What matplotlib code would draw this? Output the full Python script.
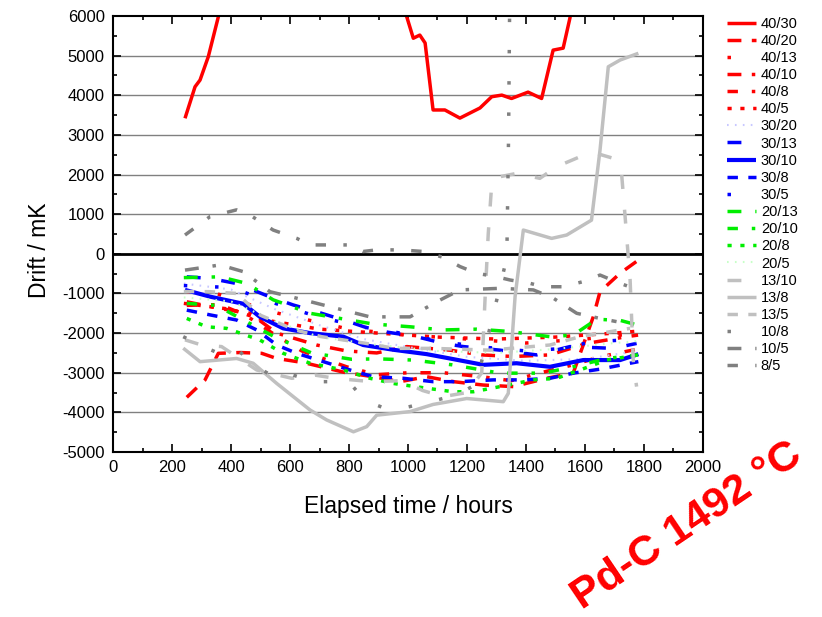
import matplotlib.pyplot as plt
from matplotlib.ticker import MultipleLocator

plt.rcParams['font.family'] = ['Liberation Sans', 'DejaVu Sans']
plt.rcParams['axes.unicode_minus'] = False

# --- data (hours, mK) ---
t40_30 = [244, 278, 295, 323, 357, 380, 980, 995, 1018, 1040, 1058, 1085, 1125, 1176, 1244, 1284, 1318, 1351, 1407, 1453, 1492, 1526, 1549, 1560]
d40_30 = [3420, 4215, 4385, 4975, 5980, 6600, 6600, 6000, 5440, 5520, 5320, 3630, 3630, 3425, 3680, 3965, 4005, 3920, 4080, 3920, 5140, 5190, 5950, 6600]

t40_20 = [250, 312, 357, 430, 504, 555, 650, 790, 882, 973, 1063, 1154, 1255, 1357, 1470, 1560, 1628, 1651, 1719, 1775]
d40_20 = [-3620, -3180, -2510, -2490, -2510, -2640, -2750, -3000, -3100, -3225, -3100, -3225, -3310, -3350, -3140, -3010, -1590, -955, -490, -190]

t40_13 = [250, 350, 470, 560, 650, 800, 1000, 1200, 1400, 1600, 1780]
d40_13 = [-950, -1000, -1300, -1500, -1650, -1900, -2050, -2150, -2250, -2150, -2000]

t40_10 = [250, 363, 464, 555, 690, 792, 894, 996, 1142, 1250, 1357, 1481, 1606, 1741, 1780]
d40_10 = [-1210, -1380, -1500, -2000, -2300, -2450, -2500, -2340, -2430, -2550, -2590, -2550, -2260, -2090, -2050]

t40_8 = [250, 363, 450, 540, 640, 792, 894, 1000, 1120, 1250, 1350, 1450, 1560, 1650, 1780]
d40_8 = [-1300, -1280, -1550, -2000, -2450, -2850, -3050, -3000, -3000, -3100, -3200, -3000, -2800, -2600, -2400]

t40_5 = [240, 400, 500, 700, 900, 1100, 1300, 1500, 1700, 1780]
d40_5 = [-1250, -1400, -1650, -1900, -2000, -2100, -2150, -2100, -2000, -1950]

t30_20 = [240, 400, 550, 700, 850, 1000, 1200, 1400, 1600, 1780]
d30_20 = [-750, -900, -1400, -1800, -2150, -2350, -2600, -2700, -2650, -2450]

t30_13 = [250, 329, 420, 520, 611, 690, 815, 882, 1029, 1120, 1188, 1312, 1436, 1549, 1696, 1775]
d30_13 = [-580, -620, -750, -1050, -1290, -1460, -1750, -1920, -2090, -2260, -2340, -2430, -2550, -2340, -2385, -2260]

t30_10 = [244, 329, 442, 498, 577, 668, 781, 848, 950, 1063, 1142, 1255, 1368, 1481, 1594, 1719, 1781]
d30_10 = [-910, -1080, -1260, -1590, -1880, -2000, -2090, -2300, -2420, -2530, -2640, -2800, -2760, -2850, -2680, -2680, -2530]

t30_8 = [250, 329, 419, 487, 555, 623, 713, 803, 882, 984, 1085, 1176, 1289, 1391, 1481, 1560, 1651, 1753, 1781]
d30_8 = [-1420, -1540, -1670, -1920, -2300, -2510, -2720, -2930, -3100, -3140, -3225, -3225, -3180, -3180, -3140, -3010, -2910, -2760, -2720]

t30_5 = [240, 400, 550, 700, 850, 984, 1108, 1250, 1400, 1500, 1628, 1780]
d30_5 = [-800, -850, -1250, -1600, -1850, -2010, -2210, -2350, -2450, -2400, -2220, -2150]

t20_13 = [240, 363, 453, 543, 668, 770, 882, 1007, 1120, 1233, 1346, 1481, 1560, 1640, 1720, 1780]
d20_13 = [-600, -580, -745, -1160, -1500, -1630, -1770, -1840, -1920, -1900, -1960, -2090, -2050, -1650, -1680, -1800]

t20_10 = [250, 350, 450, 549, 673, 809, 900, 1018, 1150, 1312, 1459, 1560, 1673, 1780]
d20_10 = [-1250, -1300, -1700, -2100, -2500, -2660, -2650, -2680, -2800, -3010, -3010, -2850, -2640, -2550]

t20_8 = [250, 317, 385, 498, 577, 668, 781, 871, 950, 1063, 1154, 1221, 1312, 1425, 1504, 1583, 1673, 1780]
d20_8 = [-1630, -1840, -1880, -2175, -2510, -2760, -2930, -3140, -3270, -3390, -3480, -3480, -3350, -3180, -3140, -2930, -2680, -2550]

t20_5 = [240, 400, 550, 700, 900, 1100, 1300, 1500, 1700, 1780]
d20_5 = [-1100, -1200, -1700, -2100, -2300, -2450, -2500, -2400, -2250, -2200]

t13_10 = [244, 300, 368, 487, 606, 685, 752, 877, 979, 1050, 1120, 1200, 1250, 1262, 1272, 1284, 1311, 1368, 1447, 1504, 1583, 1639, 1696, 1724, 1736, 1753, 1764, 1775]
d13_10 = [-2170, -2300, -2340, -2930, -3140, -3060, -3140, -3225, -3200, -3450, -3600, -3500, -3000, -1000, 500, 1780, 1945, 2030, 1905, 2200, 2450, 2535, 2410, 2030, 940, -660, -2760, -3350]

t13_8 = [238, 295, 419, 475, 555, 668, 724, 815, 860, 894, 1007, 1085, 1199, 1323, 1340, 1363, 1391, 1487, 1538, 1622, 1651, 1679, 1719, 1781]
d13_8 = [-2380, -2720, -2640, -2760, -3270, -3940, -4190, -4490, -4360, -4070, -3980, -3800, -3650, -3730, -3520, -1080, 600, 390, 475, 850, 2620, 4720, 4890, 5060]

t13_5 = [240, 329, 419, 500, 617, 707, 850, 956, 1085, 1278, 1481, 1583, 1753]
d13_5 = [-950, -955, -1000, -1550, -1920, -2090, -2250, -2385, -2385, -2430, -2300, -2090, -1880]

t10_8 = [238, 295, 346, 385, 430, 470, 515, 543, 589, 628, 685, 735, 809, 848, 865, 922, 979, 1029, 1097, 1165, 1230, 1290, 1335, 1341, 1345]
d10_8 = [-2090, -2300, -2470, -2340, -2470, -2760, -2970, -3100, -3010, -3100, -3225, -3225, -3310, -3650, -3730, -3900, -3900, -3815, -3690, -3560, -3300, -1500, -100, 3000, 6600]

t10_5 = [244, 363, 442, 532, 623, 781, 871, 1007, 1097, 1176, 1312, 1425, 1493, 1572, 1651, 1707]
d10_5 = [-410, -280, -450, -955, -1120, -1420, -1590, -1590, -1210, -910, -870, -910, -1120, -1500, -1630, -1710]

t8_5 = [244, 329, 419, 464, 543, 623, 668, 803, 848, 894, 973, 1051, 1120, 1176, 1233, 1301, 1346, 1414, 1459, 1527, 1594, 1651, 1719, 1781]
d8_5 = [475, 940, 1110, 980, 600, 390, 225, 225, 60, 100, 100, 60, -90, -320, -490, -580, -660, -745, -830, -830, -700, -535, -745, -910]

RED, BLUE, GREEN = '#ff0000', '#0000ff', '#00ee00'
LGRAY, DGRAY = '#c0c0c0', '#808080'

# (label, x, y, color, dashes, width)
series = [
    ('40/30', t40_30, d40_30, RED, None, 2.5),
    ('40/20', t40_20, d40_20, RED, (4, 3), 2.5),
    ('40/13', t40_13, d40_13, RED, (1, 8), 2.5),
    ('40/10', t40_10, d40_10, RED, (4, 3, 1, 3), 2.5),
    ('40/8', t40_8, d40_8, RED, (3, 4, 1, 4), 2.5),
    ('40/5', t40_5, d40_5, RED, (1.2, 2.5), 2.5),
    ('30/20', t30_20, d30_20, '#c8c8ff', (0.8, 3), 1.5),
    ('30/13', t30_13, d30_13, BLUE, (4, 6), 2.5),
    ('30/10', t30_10, d30_10, BLUE, None, 3),
    ('30/8', t30_8, d30_8, BLUE, (3, 3), 2.5),
    ('30/5', t30_5, d30_5, BLUE, (1, 8), 2.5),
    ('20/13', t20_13, d20_13, GREEN, (4, 4, 1, 4), 2.5),
    ('20/10', t20_10, d20_10, GREEN, (3, 4, 1, 4), 2.5),
    ('20/8', t20_8, d20_8, GREEN, (1.2, 2.5), 2.5),
    ('20/5', t20_5, d20_5, '#c8ffc8', (0.8, 3), 1.5),
    ('13/10', t13_10, d13_10, LGRAY, (4, 6), 2.5),
    ('13/8', t13_8, d13_8, LGRAY, None, 2.5),
    ('13/5', t13_5, d13_5, LGRAY, (3, 3), 2.5),
    ('10/8', t10_8, d10_8, DGRAY, (1, 8), 2.5),
    ('10/5', t10_5, d10_5, DGRAY, (4, 4, 1, 4), 2.5),
    ('8/5', t8_5, d8_5, DGRAY, (3, 5, 1, 5), 2.5),
]

fig = plt.figure(figsize=(8.22, 6.17), dpi=100)
ax = fig.add_axes([0.1375, 0.2674, 0.7177, 0.7066])

for y in range(-4000, 6000, 1000):
    if y != 0:
        ax.axhline(y, color='#808080', lw=1, zorder=0)
ax.axhline(0, color='black', lw=2, zorder=0)

for label, x, y, c, dash, w in series:
    line, = ax.plot(x, y, color=c, lw=w, label=label, solid_capstyle='butt')
    if dash is not None:
        line.set_dashes(dash)
        line.set_dash_capstyle('butt')

ax.set_xlim(0, 2000)
ax.set_ylim(-5000, 6000)
ax.xaxis.set_major_locator(MultipleLocator(200))
ax.xaxis.set_minor_locator(MultipleLocator(100))
ax.yaxis.set_major_locator(MultipleLocator(1000))
ax.yaxis.set_minor_locator(MultipleLocator(500))
ax.tick_params(which='both', direction='in', top=True, right=True, width=1.2, labelsize=12, pad=6)
ax.tick_params(which='major', length=6)
ax.tick_params(which='minor', length=3)
for s in ax.spines.values():
    s.set_linewidth(1.5)

ax.set_xlabel('Elapsed time / hours', fontsize=16.5, va='center')
ax.set_ylabel('Drift / mK', fontsize=16.5, va='center')
ax.xaxis.set_label_coords(0.5, -0.126)
ax.yaxis.set_label_coords(-0.125, 0.463)

ax.legend(loc='upper left', bbox_to_anchor=(1.03, 1.012), frameon=False, fontsize=10.5,
          handlelength=2.05, handletextpad=0.3, labelspacing=0.215, borderaxespad=0)

fig.text(0.836, 0.148, 'Pd-C 1492 °C', color='red', fontsize=31, fontweight='bold',
         rotation=34, ha='center', va='center', rotation_mode='anchor')

fig.savefig('out.png', dpi=100)
